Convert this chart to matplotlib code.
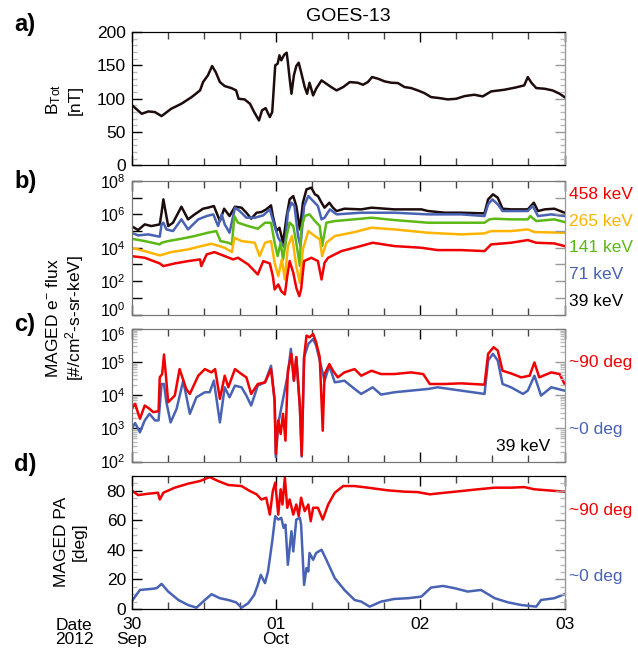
import matplotlib
matplotlib.use('Agg')
import matplotlib.pyplot as plt
import matplotlib.transforms as mtransforms
import numpy as np
from matplotlib.ticker import MultipleLocator, FixedLocator, LogLocator, NullFormatter

plt.rcParams['font.family'] = ['Liberation Sans', 'DejaVu Sans']
plt.rcParams['mathtext.fontset'] = 'custom'
plt.rcParams['mathtext.rm'] = 'Liberation Sans'
plt.rcParams['mathtext.it'] = 'Liberation Sans:italic'
plt.rcParams['mathtext.bf'] = 'Liberation Sans:bold'

# time in hours since 2012-09-30 00:00 UT

# a) total field [nT]
t_btot = [0, 1.7, 2.8, 3.9, 5.0, 6.6, 8.3, 10.0, 11.4, 11.9, 12.7, 13.4, 14.0, 14.7, 15.5,
          16.6, 17.4, 17.8, 18.8, 19.7, 20.4, 21.2, 21.7, 22.3, 23.0, 23.4, 23.9, 24.3, 24.6, 24.9,
          25.4, 25.8, 26.0, 26.3, 26.6, 27.0, 27.4, 27.8, 28.2, 28.8, 29.2, 29.6, 30.2, 30.7, 31.6,
          32.4, 33.2, 34.1, 35.2, 36.3, 37.6, 38.5, 39.3, 40.0, 41.0, 42.1, 43.2, 44.3, 45.4, 46.5,
          47.6, 48.7, 49.8, 51.2, 52.6, 54.0, 55.4, 57.0, 58.4, 59.8, 62.0, 63.7, 65.3, 65.9, 66.5,
          67.3, 68.7, 70.0, 71.2, 72.0]
btot = [91, 77.5, 81, 80, 74, 85, 92.5, 102.5, 112.5, 125, 135, 149, 140, 125, 119,
        116, 112.5, 100, 99, 92.5, 80, 67.5, 82.5, 86, 72.5, 80, 150, 152.5, 165, 157.5,
        166, 169, 155, 130, 107.5, 135, 149, 154, 140, 117.5, 107.5, 124, 105, 115, 127.5,
        122.5, 117.5, 112.5, 117.5, 125, 124, 121, 125, 132.5, 130, 126, 124, 123.5, 117.5, 116,
        112.5, 108.5, 102.5, 101, 99, 100, 104, 106, 103.5, 111, 113.5, 116.5, 120, 132.5, 124,
        116, 115, 112.5, 107.5, 102.5]

# b) MAGED electron flux, log10 [#/cm2-s-sr-keV]
t_39 = [0, 1.1, 2.2, 3.3, 4.7, 5.0, 5.3, 5.7, 6.1, 6.9, 8.3, 9.4, 10.5, 11.9, 12.7,
        13.7, 14.7, 15.4, 16.3, 17.2, 18.3, 19.1, 19.9, 20.8, 21.6, 22.4, 23.2, 23.5, 24.1, 24.6,
        25.2, 25.8, 26.3, 26.9, 27.4, 28.0, 28.5, 29.1, 29.9, 30.5, 31.0, 31.6, 32.1, 32.9, 33.5,
        34.1, 35.4, 38.2, 39.9, 43.7, 46.5, 48.2, 49.3, 52.1, 54.8, 58.7, 59.3, 60.1, 60.9, 61.7,
        63.1, 65.9, 66.9, 67.6, 68.7, 70.3, 72.0]
log_39 = [5.3, 5.06, 5.4, 5.3, 5.4, 6.1, 6.9, 6.1, 5.3, 5.5, 6.46, 5.7, 6.0, 6.34, 6.4,
          6.5, 5.6, 6.34, 5.9, 6.46, 6.4, 6.1, 5.74, 6.1, 6.14, 6.3, 6.54, 5.9, 5.0, 5.2,
          4.3, 5.9, 6.9, 7.1, 6.5, 5.1, 6.7, 7.5, 7.6, 7.2, 7.1, 6.7, 6.4, 6.7, 6.4,
          6.2, 6.34, 6.3, 6.4, 6.3, 6.3, 6.3, 6.2, 6.1, 6.1, 6.06, 6.9, 7.2, 7.0, 6.34,
          6.3, 6.3, 6.7, 6.2, 6.3, 6.34, 6.1]

t_71 = [0, 1.1, 2.8, 4.7, 5.0, 5.3, 5.8, 6.9, 8.3, 9.4, 11.1, 12.5, 13.6, 14.4, 15.0,
        15.5, 16.3, 17.2, 18.0, 19.1, 20.5, 21.9, 23.0, 23.8, 24.4, 24.9, 25.5, 26.0, 26.6, 27.1,
        27.7, 28.1, 28.7, 29.4, 30.2, 31.0, 31.6, 32.1, 33.0, 34.1, 38.2, 43.7, 49.3, 54.8, 58.7,
        59.3, 60.0, 60.9, 61.7, 65.9, 66.7, 67.6, 69.8, 72.0]
log_71 = [4.9, 4.74, 4.8, 4.66, 5.4, 5.5, 5.1, 5.0, 5.7, 5.1, 5.7, 5.9, 6.0, 5.3, 6.0,
          5.4, 4.9, 6.4, 6.2, 5.8, 5.8, 5.94, 6.3, 5.3, 4.6, 4.3, 4.0, 6.1, 6.7, 6.5,
          4.7, 4.1, 6.5, 7.1, 6.8, 6.5, 5.7, 5.8, 6.3, 6.0, 6.1, 6.1, 6.0, 6.0, 5.9,
          6.6, 6.9, 6.6, 6.2, 6.2, 6.5, 5.9, 6.0, 5.9]

t_141 = [0, 2.2, 4.7, 5.0, 6.1, 8.3, 10.5, 12.7, 14.1, 14.8, 16.1, 16.7, 17.1, 17.7, 19.4,
         21.0, 22.2, 23.2, 23.8, 24.3, 24.8, 25.2, 25.8, 26.3, 26.9, 27.4, 28.0, 28.2, 28.8, 29.6,
         30.5, 31.3, 31.7, 32.4, 33.8, 38.2, 39.9, 43.7, 49.3, 54.8, 58.7, 59.5, 60.4, 63.1, 65.9,
         66.3, 67.3, 70.3, 72.0]
log_141 = [4.54, 4.4, 4.2, 4.3, 4.4, 4.54, 4.7, 4.9, 5.0, 4.4, 4.3, 4.2, 5.9, 5.5, 5.3,
           5.14, 5.5, 5.5, 4.3, 3.5, 4.3, 3.3, 4.7, 5.5, 5.3, 4.3, 2.9, 5.1, 5.9, 6.0,
           5.6, 5.3, 4.1, 5.5, 5.6, 5.74, 5.8, 5.66, 5.5, 5.5, 5.5, 5.7, 5.74, 5.7, 5.7,
           5.9, 5.6, 5.7, 5.54]

t_265 = [0, 2.2, 4.7, 6.6, 9.4, 11.6, 13.3, 15.5, 16.7, 17.1, 18.3, 20.5, 21.3, 22.2, 23.2,
         23.8, 24.4, 25.0, 25.5, 26.0, 26.7, 27.4, 28.0, 28.5, 29.4, 30.5, 31.3, 31.7, 32.4, 33.8,
         37.1, 39.9, 43.7, 49.3, 54.8, 58.7, 59.8, 63.1, 65.9, 67.0, 72.0]
log_265 = [4.0, 3.8, 3.54, 3.74, 3.9, 4.1, 4.24, 4.0, 3.74, 4.6, 4.4, 4.3, 3.5, 4.3, 4.4,
           3.1, 2.3, 3.3, 2.1, 4.1, 4.7, 2.9, 1.9, 3.9, 5.0, 4.7, 4.5, 3.5, 4.3, 4.7,
           4.94, 5.2, 5.1, 4.9, 4.8, 4.86, 5.0, 5.0, 5.1, 4.94, 4.9]

t_458 = [0, 2.2, 4.7, 5.3, 7.2, 9.4, 11.4, 11.6, 12.5, 13.8, 15.5, 16.9, 17.7, 19.4, 21.0,
         21.9, 23.0, 23.5, 23.8, 24.4, 24.9, 25.5, 25.9, 26.3, 26.9, 27.4, 27.9, 28.2, 28.7, 29.9,
         31.0, 31.6, 32.1, 32.7, 34.9, 37.7, 40.1, 43.7, 48.2, 50.9, 54.8, 58.7, 59.8, 63.1, 65.9,
         67.3, 70.3, 72.0]
log_458 = [3.5, 3.4, 3.06, 2.9, 3.06, 3.2, 3.3, 2.9, 3.6, 3.74, 3.5, 3.3, 3.4, 3.0, 2.4,
           3.2, 3.06, 2.3, 1.5, 1.8, 1.4, 1.2, 2.3, 3.2, 2.5, 1.6, 1.1, 1.5, 3.2, 3.4,
           3.2, 2.1, 3.1, 3.4, 3.8, 4.06, 4.3, 4.1, 4.0, 3.86, 3.86, 3.8, 4.2, 4.3, 4.46,
           4.3, 4.26, 4.1]

# c) 39 keV flux, log10, two pitch angles
t_c90 = [0, 0.6, 1.4, 2.2, 3.0, 3.6, 4.5, 4.7, 5.1, 5.4, 5.7, 6.1, 7.2, 8.0, 9.1,
         9.7, 11.1, 12.2, 13.3, 13.9, 14.7, 15.5, 16.1, 17.2, 18.3, 19.1, 19.9, 21.0, 22.2, 23.2,
         23.8, 24.0, 24.4, 24.8, 25.2, 25.6, 26.0, 26.6, 27.0, 27.4, 28.0, 28.3, 28.7, 29.1, 29.6,
         30.2, 30.7, 31.3, 31.8, 32.1, 32.9, 33.5, 34.3, 35.4, 37.1, 38.2, 39.9, 41.5, 43.7, 46.5,
         48.5, 49.6, 52.1, 54.8, 58.7, 59.3, 60.2, 60.9, 61.7, 63.1, 64.8, 66.2, 67.0, 67.8, 69.8,
         71.2, 72.0]
log_c90 = [3.59, 3.74, 3.29, 3.69, 3.59, 3.49, 3.52, 4.54, 4.64, 5.23, 4.64, 3.79, 3.99, 4.79, 4.19,
           4.04, 4.59, 4.79, 4.69, 4.79, 3.89, 4.59, 4.24, 4.79, 4.64, 4.54, 4.04, 4.34, 4.39, 4.79,
           3.84, 2.23, 3.24, 2.83, 3.44, 2.63, 4.74, 5.25, 4.44, 5.15, 3.64, 2.18, 5.15, 5.8, 5.75,
           5.85, 5.6, 5.15, 2.93, 4.64, 4.94, 4.74, 4.54, 4.69, 4.79, 4.59, 4.74, 4.64, 4.64, 4.69,
           4.64, 4.34, 4.34, 4.36, 4.32, 5.25, 5.45, 5.35, 4.74, 4.66, 4.54, 4.59, 4.99, 4.54, 4.69,
           4.64, 4.34]

t_c0 = [0, 0.6, 1.4, 2.2, 3.0, 3.9, 4.5, 5.0, 5.4, 5.8, 6.5, 7.5, 8.6, 9.7, 10.8,
        12.2, 13.0, 13.7, 14.7, 15.5, 16.3, 17.2, 18.3, 19.1, 19.9, 21.0, 22.2, 23.2, 23.8, 24.0,
        24.4, 26.0, 26.5, 27.0, 27.4, 28.0, 28.3, 28.7, 29.4, 30.2, 30.7, 31.3, 32.1, 32.9, 33.8,
        35.4, 37.1, 38.2, 40.1, 41.5, 43.7, 46.5, 49.3, 50.9, 54.8, 58.7, 59.3, 60.1, 60.9, 61.7,
        63.1, 65.1, 65.9, 67.0, 68.1, 69.8, 72.0]
log_c0 = [2.98, 3.16, 2.88, 3.24, 3.44, 3.24, 3.24, 4.34, 4.34, 3.79, 3.18, 3.59, 4.44, 3.44, 3.94,
          4.09, 4.09, 4.44, 3.18, 4.24, 3.94, 4.29, 4.24, 3.99, 3.69, 4.29, 4.39, 4.89, 3.84, 2.13,
          3.14, 4.64, 5.4, 4.44, 5.15, 3.64, 2.15, 5.15, 5.55, 5.7, 5.5, 5.05, 4.44, 4.89, 4.39,
          4.44, 4.19, 4.04, 4.24, 4.02, 4.09, 4.14, 4.19, 4.24, 4.14, 4.04, 5.05, 5.25, 5.05, 4.34,
          4.24, 4.04, 4.14, 4.59, 3.99, 4.24, 4.14]

# d) pitch angle [deg]
t_pa90 = [0, 1.1, 2.8, 4.4, 4.7, 5.3, 7.2, 9.4, 11.4, 13.0, 14.4, 16.1, 18.3, 19.7, 20.8,
          21.6, 22.4, 23.0, 23.5, 23.9, 24.4, 24.8, 25.1, 25.5, 25.9, 26.3, 26.9, 27.4, 27.8, 28.2,
          28.8, 29.4, 29.8, 30.2, 31.0, 31.8, 32.7, 33.8, 35.2, 37.1, 39.3, 42.6, 45.4, 47.6, 49.6,
          52.1, 54.8, 57.6, 60.4, 63.1, 65.3, 67.0, 69.2, 72.0]
pa90 = [80.3, 77.1, 78, 78.7, 74.1, 78.7, 82.1, 84.8, 86.6, 89.3, 86.6, 83.9, 83.2, 79.8, 77.6,
        74.1, 75.3, 63.9, 79.8, 85.5, 63.9, 81, 70.7, 88.9, 68.5, 74.1, 63.9, 70.7, 62.8, 75.3,
        66.2, 70.7, 59.4, 68.5, 68.5, 60.5, 70.7, 78.7, 83.2, 83.2, 82.1, 80.3, 79.4, 79.1, 77.6,
        78.7, 79.8, 81, 82.1, 82.1, 82.5, 81, 80.3, 79.4]

t_pa0 = [0, 1.4, 3.3, 4.2, 5.0, 6.1, 7.8, 9.4, 10.8, 11.9, 13.3, 14.7, 16.1, 17.4, 18.3,
         19.4, 20.4, 21.0, 21.5, 22.2, 22.7, 23.4, 23.9, 24.4, 24.9, 25.3, 25.6, 26.0, 26.6, 26.9,
         27.4, 28.0, 28.2, 28.7, 29.1, 29.4, 29.6, 30.2, 30.7, 31.6, 32.4, 33.8, 35.4, 37.1, 38.2,
         39.6, 41.5, 43.7, 46.0, 48.2, 49.8, 51.8, 53.7, 55.9, 58.1, 60.4, 62.6, 64.8, 67.3, 68.1,
         70.3, 72.0]
pa0 = [5, 12.9, 13.6, 14.1, 17, 11.8, 6.1, 2.7, 0.9, 5, 10, 7.3, 6.1, 4.5, 0.9,
       3.9, 9.5, 16.3, 23.1, 17.5, 25.4, 45.8, 62.8, 60.5, 61.7, 54.9, 57.1, 29.9, 52.6, 39,
       60.5, 61.7, 57.1, 16.3, 27.7, 25.4, 37.9, 33.3, 37.9, 40.1, 33.3, 20.9, 12.9, 6.1, 5,
       1.6, 5, 6.8, 7.3, 8.4, 14.5, 15.6, 14.1, 11.8, 12.9, 7.3, 4.5, 2.7, 1.6, 6.1,
       7.3, 10]

day_ticks = [0, 24, 48, 72]
day_labels = ['30\nSep', '01\nOct', '02', '03']

BLACK = '#1e0c0c'
BLUE = '#4862b4'
GREEN = '#5cb814'
ORANGE = '#ffb400'
RED = '#f00000'
LW = 1.8
FS = 12.5

W, H = 638, 652
fig = plt.figure(figsize=(W / 100, H / 100), dpi=100)


def box(top, bottom):
    return [131.5 / W, 1 - bottom / H, 433 / W, (bottom - top) / H]


def style(ax, spine_col, ymajor, yminor, log=False):
    ax.set_xlim(0, 72)
    ax.xaxis.set_major_locator(FixedLocator(day_ticks))
    ax.xaxis.set_minor_locator(MultipleLocator(6))
    ax.tick_params(axis='x', which='both', direction='in', top=True, bottom=True)
    ax.tick_params(axis='x', which='major', length=7, width=1, color='black')
    ax.tick_params(axis='x', which='minor', length=5, width=1, color='#444444')
    ax.yaxis.set_major_locator(ymajor)
    ax.yaxis.set_minor_locator(yminor)
    ax.yaxis.set_minor_formatter(NullFormatter())
    ax.tick_params(axis='y', which='major', direction='in', length=7, width=1, color='black')
    ax.tick_params(axis='y', which='minor', direction='in', length=3.5, width=1, color='#bbbbbb')
    ax.tick_params(axis='both', labelsize=FS, pad=4)
    if log:
        ax.tick_params(axis='y', labelsize=11.5)
    for s in ax.spines.values():
        s.set_color(spine_col)
    rax = ax.twinx()
    if log:
        rax.set_yscale('log')
    rax.set_ylim(ax.get_ylim())
    rax.yaxis.set_major_locator(ymajor)
    rax.yaxis.set_minor_locator(yminor)
    rax.yaxis.set_minor_formatter(NullFormatter())
    rax.tick_params(axis='y', which='major', direction='in', length=7, width=1,
                    color='#999999', labelright=False)
    rax.tick_params(axis='y', which='minor', direction='in', length=3.5, width=1,
                    color='#bbbbbb', labelright=False)
    for s in rax.spines.values():
        s.set_color(spine_col)
    rax.spines['right'].set_color('#999999')
    return rax


# a)
ax_a = fig.add_axes(box(32, 165.5))
ax_a.plot(t_btot, btot, color=BLACK, lw=LW)
ax_a.set_ylim(0, 200)
style(ax_a, 'black', MultipleLocator(50), MultipleLocator(10))
ax_a.set_xticklabels([])
ax_a.set_title('GOES-13', fontsize=14, pad=8)

# b)
ax_b = fig.add_axes(box(181, 314.5))
ax_b.set_yscale('log')
for tt, vv, col in [(t_39, log_39, BLACK), (t_71, log_71, BLUE), (t_141, log_141, GREEN),
                    (t_265, log_265, ORANGE), (t_458, log_458, RED)]:
    ax_b.plot(tt, 10.0 ** np.array(vv), color=col, lw=LW)
ax_b.set_ylim(1, 1e8)
rb = style(ax_b, '#777777', FixedLocator([1e0, 1e2, 1e4, 1e6, 1e8]),
           FixedLocator([1e1, 1e3, 1e5, 1e7]), log=True)
ax_b.tick_params(axis='y', which='minor', length=7, color='black')
rb.tick_params(axis='y', which='minor', length=7, color='#999999')
ax_b.set_xticklabels([])
for txt, yy, col in [('458 keV', 0.90, RED), ('265 keV', 0.695, ORANGE), ('141 keV', 0.50, GREEN),
                     ('71 keV', 0.296, BLUE), ('39 keV', 0.096, 'black')]:
    ax_b.text(1.01, yy, txt, color=col, fontsize=FS, transform=ax_b.transAxes,
              ha='left', va='center')

# c)
ax_c = fig.add_axes(box(329, 461.5))
ax_c.set_yscale('log')
ax_c.plot(t_c0, 10.0 ** np.array(log_c0), color=BLUE, lw=LW)
ax_c.plot(t_c90, 10.0 ** np.array(log_c90), color=RED, lw=LW)
ax_c.set_ylim(1e2, 1e6)
style(ax_c, '#777777', FixedLocator([1e2, 1e3, 1e4, 1e5, 1e6]),
      LogLocator(base=10, subs=np.arange(2, 10), numticks=10), log=True)
ax_c.set_xticklabels([])
ax_c.text(1.01, 0.746, '~90 deg', color=RED, fontsize=FS, transform=ax_c.transAxes,
          ha='left', va='center')
ax_c.text(1.01, 0.238, '~0 deg', color=BLUE, fontsize=FS, transform=ax_c.transAxes,
          ha='left', va='center')
ax_c.text(0.966, 0.11, '39 keV', color='black', fontsize=FS, transform=ax_c.transAxes,
          ha='right', va='center')

# d)
ax_d = fig.add_axes(box(476, 609))
ax_d.plot(t_pa90, pa90, color=RED, lw=LW)
ax_d.plot(t_pa0, pa0, color=BLUE, lw=LW)
ax_d.set_ylim(0, 90)
style(ax_d, 'black', MultipleLocator(20), MultipleLocator(5))
ax_d.set_xticks(day_ticks)
ax_d.set_xticklabels(day_labels, fontsize=FS, linespacing=0.95)
ax_d.tick_params(axis='x', pad=6)
ax_d.text(1.01, 0.744, '~90 deg', color=RED, fontsize=FS, transform=ax_d.transAxes,
          ha='left', va='center')
ax_d.text(1.01, 0.243, '~0 deg', color=BLUE, fontsize=FS, transform=ax_d.transAxes,
          ha='left', va='center')

# panel letters and axis titles
for lab, yy in [('a)', 25), ('b)', 181), ('c)', 325), ('d)', 465)]:
    fig.text(14 / W, 1 - yy / H, lab, fontsize=17, fontweight='bold', ha='left', va='center')

fig.text(54 / W, 1 - 99 / H, r'B$_{\mathrm{Tot}}$', rotation=90, fontsize=FS, ha='center', va='center')
fig.text(75 / W, 1 - 100 / H, '[nT]', rotation=90, fontsize=FS, ha='center', va='center')
fig.text(53 / W, 1 - 318 / H, r'MAGED e$^{-}$ flux', rotation=90, fontsize=FS, ha='center', va='center')
fig.text(75 / W, 1 - 318 / H, r'[#/cm$^{2}$-s-sr-keV]', rotation=90, fontsize=FS, ha='center', va='center')
fig.text(61 / W, 1 - 542 / H, 'MAGED PA', rotation=90, fontsize=FS, ha='center', va='center')
fig.text(79 / W, 1 - 542 / H, '[deg]', rotation=90, fontsize=FS, ha='center', va='center')
fig.text(74 / W, 1 - 618 / H, 'Date\n2012', fontsize=FS, ha='center', va='top', linespacing=0.95)

# nudge the crowded 10^0 (b) and 10^6 (c) labels apart, as in the original
fig.canvas.draw()
up = mtransforms.ScaledTranslation(0, 4 / 72, fig.dpi_scale_trans)
down = mtransforms.ScaledTranslation(0, -4 / 72, fig.dpi_scale_trans)
lb = ax_b.yaxis.get_major_ticks()[0].label1
lb.set_transform(lb.get_transform() + up)
lc = ax_c.yaxis.get_major_ticks()[4].label1
lc.set_transform(lc.get_transform() + down)

fig.savefig('out.png', dpi=100)
